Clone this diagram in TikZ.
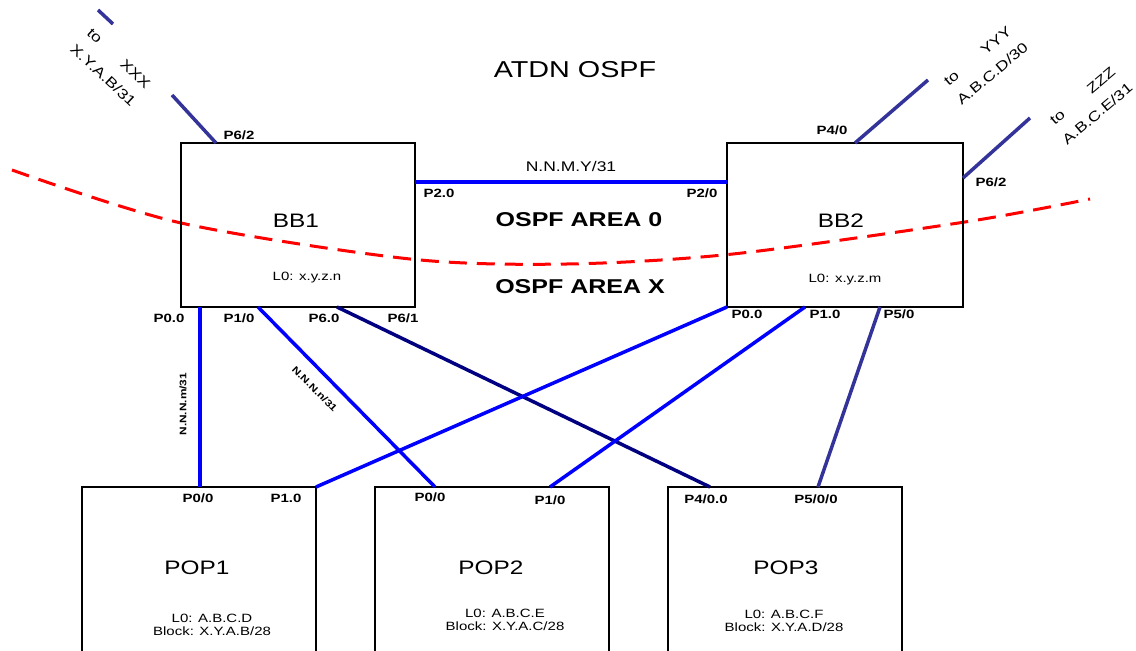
\documentclass[tikz,border=0pt]{standalone}
\usepackage{fontspec}
\setmainfont{Liberation Sans}[FakeStretch=1.25]
\usepackage{xcolor}
\usetikzlibrary{positioning,calc}
\definecolor{lnblue}{RGB}{0,0,255}
\definecolor{lnnavy}{RGB}{0,0,128}
\definecolor{lnslate}{RGB}{51,51,153}
\definecolor{areared}{RGB}{255,0,0}

\begin{document}
\begin{tikzpicture}[x=1pt, y=1pt,
  box/.style={rectangle, draw=black, line width=1.8pt, minimum width=234pt,
              minimum height=164pt, inner sep=0pt, outer sep=0pt},
  popbox/.style={box, minimum height=175pt},
  nm/.style={font=\fontsize{19.5}{21}\selectfont, inner sep=0pt},
  port/.style={font=\fontsize{12}{13}\selectfont\bfseries, inner sep=0pt},
  lo/.style={font=\fontsize{12}{13.5}\selectfont, align=center, inner sep=0pt},
  area/.style={font=\fontsize{20}{22}\selectfont\bfseries, inner sep=0pt},
  ext/.style={font=\fontsize{14}{23}\selectfont, align=center, inner sep=0pt},
  lbl/.style={font=\fontsize{9.5}{10}\selectfont\bfseries, inner sep=0pt},
  ln/.style={line width=3.5pt, draw=#1},
  ln/.default=lnblue,
  areaedge/.style={areared, line width=3pt, dash pattern=on 18pt off 10pt}]
  \clip (0,0) rectangle (1136,651);
  % area border
  \draw[areaedge] plot[smooth] coordinates {(12,481) (181,428) (410,392) (567,387) (733,397) (965,429) (1090,452)};
  % routers
  \node[box] (bb1) at (298,426) {};
  \node[box, minimum width=236pt, right=312pt of bb1] (bb2) {};
  \node[popbox] (pop1) at (199,76.5) {};
  \node[popbox, right=59pt of pop1] (pop2) {};
  \node[popbox, right=59pt of pop2] (pop3) {};
  % uplinks
  \coordinate (extl) at (172,556);
  \coordinate (extlstub) at (113,627);
  \coordinate (extlend) at (98,641);
  \coordinate (extr1) at (928,571);
  \coordinate (extr2) at (1030,533);
  \draw[ln=lnslate] ($(bb1.north west)+(35,0)$) -- (extl);
  \draw[ln=lnslate] (extlstub) -- (extlend);
  \draw[ln=lnslate] ($(bb2.north west)+(128,0)$) -- (extr1);
  \draw[ln=lnslate] ($(bb2.north east)+(0,-35)$) -- (extr2);
  \node[ext, rotate=-43] (extltxt) at (111,584) {to\hspace{2.2em}XXX\\X.Y.A.B/31};
  \node[ext, rotate=40] (extr1txt) at (985,586) {to\hspace{2.4em}YYY\\A.B.C.D/30};
  \node[ext, rotate=40] (extr2txt) at (1090,546) {to\hspace{2.4em}ZZZ\\A.B.C.E/31};
  % backbone and pop links
  \draw[ln] ($(bb1.north east)+(0,-39)$) -- node[above=9pt, font=\fontsize{14}{15}\selectfont, inner sep=0pt] (bblink) {N.N.M.Y/31} ($(bb2.north west)+(0,-39)$);
  \draw[ln] ($(bb1.south west)+(19,0)$) -- node[lbl, pos=.54, xshift=-17pt, rotate=90] (lk1) {N.N.N.m/31} ($(pop1.north west)+(118,0)$);
  \draw[ln] ($(bb1.south west)+(77,0)$) -- node[lbl, pos=.456, xshift=-24pt, rotate=-45] (lk2) {N.N.N.n/31} ($(pop2.north west)+(60,0)$);
  \draw[ln=lnnavy] ($(bb1.south west)+(156,0)$) -- ($(pop3.north west)+(42,0)$);
  \draw[ln] (bb2.south west) -- (pop1.north east);
  \draw[ln] ($(bb2.south west)+(78,0)$) -- ($(pop2.north west)+(175,0)$);
  \draw[ln=lnslate] ($(bb2.south west)+(153,0)$) -- ($(pop3.north west)+(150,0)$);
  % texts
  \node[font=\fontsize{23}{25}\selectfont] (title) at (575,581) {ATDN OSPF};
  \node[area] (area0) at (579,431) {OSPF AREA 0};
  \node[area] (areax) at (580,364) {OSPF AREA X};
  \node[nm] (bb1txt) at ($(bb1.center)+(-2,4)$) {BB1};
  \node[nm] (bb2txt) at ($(bb2.center)+(-4,4.5)$) {BB2};
  \node[lo] (bb1lo) at ($(bb1.south)+(9,29)$) {L0: x.y.z.n};
  \node[lo] (bb2lo) at ($(bb2.south)+(0,27)$) {L0: x.y.z.m};
  \node[nm] (pop1txt) at ($(pop1.center)+(-2,6.5)$) {POP1};
  \node[nm] (pop2txt) at ($(pop2.center)+(-1,6.5)$) {POP2};
  \node[nm] (pop3txt) at ($(pop3.center)+(1,6.5)$) {POP3};
  \node[lo] (pop1lo) at ($(pop1.center)+(13,-50.5)$) {L0: A.B.C.D\\Block: X.Y.A.B/28};
  \node[lo] (pop2lo) at ($(pop2.center)+(13,-45.5)$) {L0: A.B.C.E\\Block: X.Y.A.C/28};
  \node[lo] (pop3lo) at ($(pop3.center)+(-1,-46.5)$) {L0: A.B.C.F\\Block: X.Y.A.D/28};
  % ports
  \node[port] (b1p62) at (239,516) {P6/2};
  \node[port] (b1p00) at (169,333) {P0.0};
  \node[port] (b1p10) at (239,333) {P1/0};
  \node[port] (b1p60) at (324,333) {P6.0};
  \node[port] (b1p61) at (403,333) {P6/1};
  \node[port] (b1p20) at (439,458) {P2.0};
  \node[port] (b2p20) at (702,458) {P2/0};
  \node[port] (b2p40) at (832,521) {P4/0};
  \node[port] (b2p62) at (991,469) {P6/2};
  \node[port] (b2p00) at (747,337) {P0.0};
  \node[port] (b2p10) at (825,337) {P1.0};
  \node[port] (b2p50) at (899,337) {P5/0};
  \node[port] (p1p00) at (198,153) {P0/0};
  \node[port] (p1p10) at (286,153) {P1.0};
  \node[port] (p2p00) at (430,154) {P0/0};
  \node[port] (p2p10) at (550,151) {P1/0};
  \node[port] (p3p40) at (706,152) {P4/0.0};
  \node[port] (p3p50) at (816,152) {P5/0/0};
\end{tikzpicture}
\end{document}
